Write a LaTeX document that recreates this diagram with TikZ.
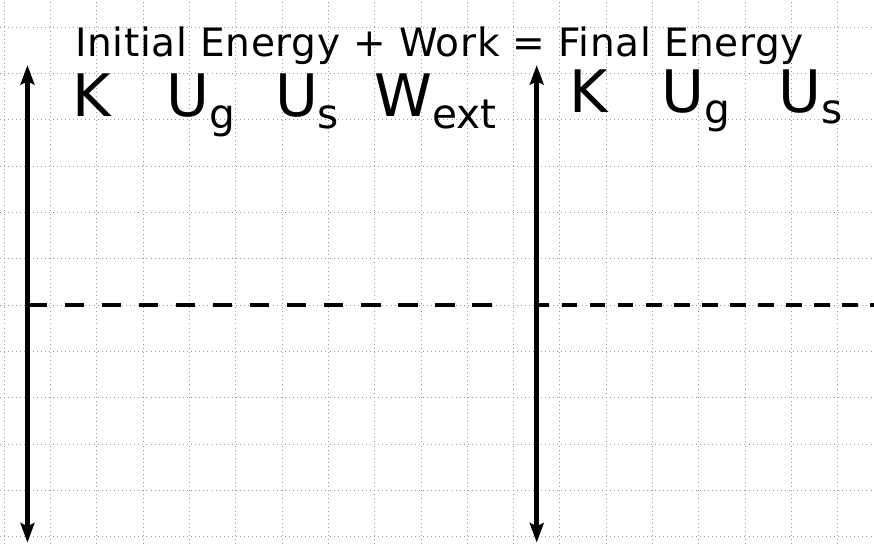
\documentclass[tikz,border=0pt]{standalone}
\usepackage{fontspec}
\setmainfont{DejaVu Sans}
\usetikzlibrary{arrows.meta}
\newcommand{\lowsub}[1]{\raisebox{-7pt}{\fontsize{25}{25}\selectfont #1}}

\begin{document}
\begin{tikzpicture}[
    x=0.5cm, y=0.5cm,
    gridline/.style={black!40, dotted, line width=0.5pt},
    axis/.style={{Stealth[length=12pt,width=8.5pt,inset=2pt]}-{Stealth[length=12pt,width=8.5pt,inset=2pt]}, line width=2.9pt},
    zeroline/.style={line width=2.9pt},
    label/.style={anchor=base west, inner sep=0pt, font=\fontsize{36}{36}\selectfont},
    heading/.style={anchor=base west, inner sep=0pt, font=\fontsize{24}{24}\selectfont\addfontfeature{LetterSpace=1.6}}
]
\useasboundingbox (-0.186,-0.318) rectangle (37.57,23.18);

% === Grille ===
\draw[gridline] (-0.186,-0.318) grid (37.57,23.18);

% === Axes ===
\coordinate (leftTop) at (1,20.37);
\coordinate (leftBot) at (1,-0.26);
\coordinate (rightTop) at (23,20.37);
\coordinate (rightBot) at (23,-0.26);
\draw[axis] (leftBot) -- (leftTop);
\draw[axis] (rightBot) -- (rightTop);

% === Niveau zero ===
\coordinate (zeroA) at (1,10);
\coordinate (zeroB) at (21.05,10);
\coordinate (zeroC) at (22.88,10);
\coordinate (zeroD) at (37.6,10);
\draw[zeroline, dash pattern=on 0.417cm off 0.384cm] (zeroA) -- (zeroB);
\draw[zeroline, dash pattern=on 0.335cm off 0.27cm] (zeroC) -- (zeroD);

% === Titre ===
\node[heading] (title) at (3.06,20.76) {Initial Energy + Work = Final Energy};

% === Etat initial ===
\node[label] (kinI) at (2.95,18.14) {K};
\node[label] (ugI) at (7.0,18.14) {U\lowsub{g}};
\node[label] (usI) at (11.68,18.14) {U\lowsub{s}};
\node[label] (wext) at (15.96,18.14) {W\lowsub{ext}};

% === Etat final ===
\node[label] (kinF) at (24.4,18.32) {K};
\node[label] (ugF) at (28.38,18.32) {U\lowsub{g}};
\node[label] (usF) at (33.42,18.32) {U\lowsub{s}};

\end{tikzpicture}
\end{document}
